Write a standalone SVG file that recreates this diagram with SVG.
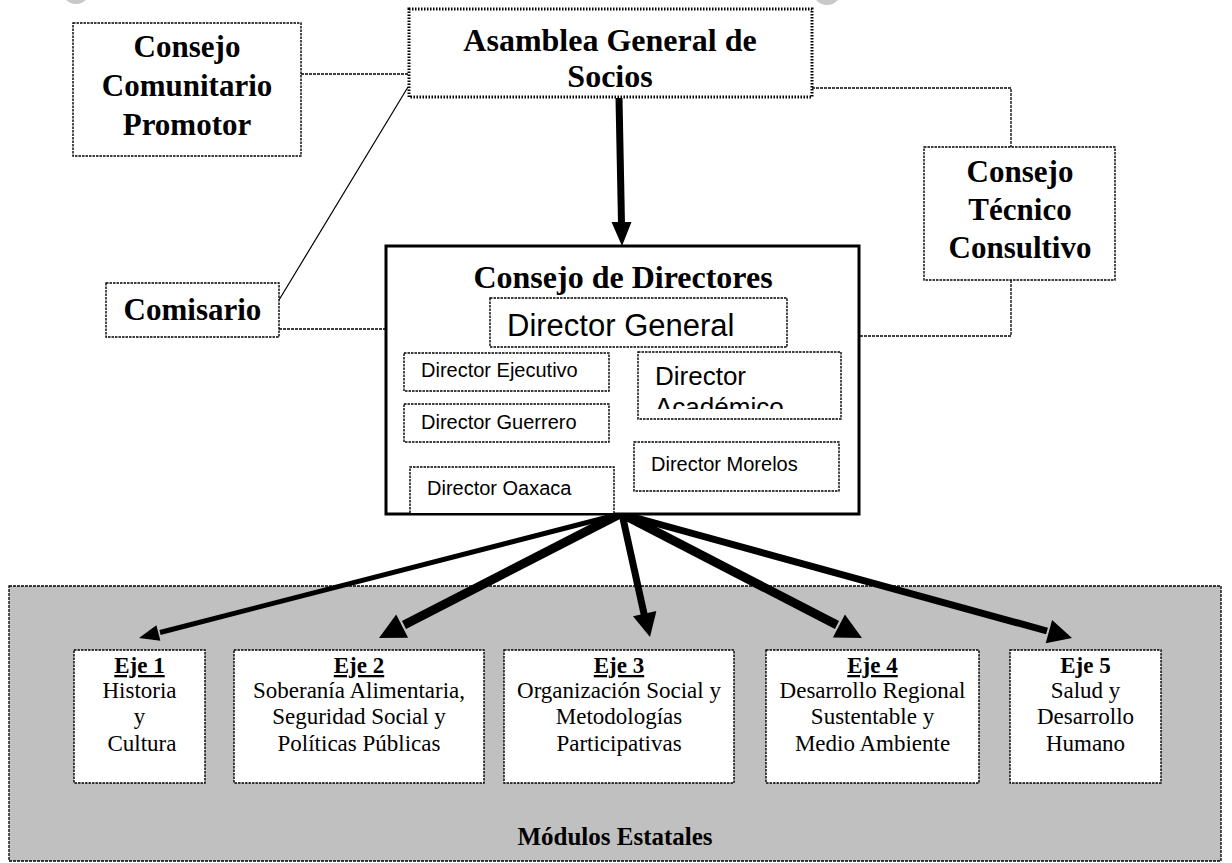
<svg xmlns="http://www.w3.org/2000/svg" width="1232" height="863" viewBox="0 0 1232 863">
<style>
.box{fill:#fff;stroke:#000;stroke-width:1.4;stroke-dasharray:2.5 1}
.dot{fill:#fff;stroke:#000;stroke-width:3;stroke-dasharray:1.5 1.5}
.hb{font-family:"Liberation Serif","Times New Roman",serif;font-weight:bold;font-size:31px;text-anchor:middle;fill:#000}
.sn{font-family:"Liberation Sans",Arial,sans-serif;fill:#000}
.eh{font-family:"Liberation Serif","Times New Roman",serif;font-weight:bold;font-size:23px;text-anchor:middle}
.et{font-family:"Liberation Serif","Times New Roman",serif;font-size:23px;text-anchor:middle}
.cn{fill:none;stroke:#000;stroke-width:1.3;stroke-dasharray:3 1}
</style>
<defs>
<clipPath id="clipDA"><rect x="638" y="352" width="204" height="57"/></clipPath>
</defs>
<rect width="1232" height="863" fill="#fff"/>
<circle cx="76" cy="-10" r="14" fill="#c8c8c8"/>
<circle cx="827" cy="-9" r="14" fill="#c8c8c8"/>

<g id="modulos">
<rect x="9" y="586" width="1212" height="275" fill="#c0c0c0" stroke="#000" stroke-width="1.3" stroke-dasharray="3 1"/>
<text class="eh" x="615" y="845" style="font-size:25px">Módulos Estatales</text>
</g>

<g id="connectors">
<polyline class="cn" points="301,74 409,74"/>
<polyline class="cn" points="812,88 1011,88 1011,147"/>
<polyline class="cn" points="1011,280 1011,336 860,336"/>
<polyline class="cn" points="279,329 386,329"/>
<line x1="408" y1="87" x2="279" y2="300" stroke="#000" stroke-width="1.2"/>
<line x1="619" y1="98" x2="621.5" y2="224" stroke="#000" stroke-width="7"/>
<polygon points="622,246 611.5,222 631.5,222" fill="#000"/>
<line x1="620" y1="514" x2="160" y2="632.5" stroke="#000" stroke-width="5"/>
<polygon points="139,638 156.4,625.3 160.4,640.8" fill="#000"/>
<line x1="620" y1="514" x2="404" y2="625" stroke="#000" stroke-width="9"/>
<polygon points="379,638 396.2,614.5 408.1,637.7" fill="#000"/>
<line x1="622" y1="514" x2="644.3" y2="615" stroke="#000" stroke-width="7"/>
<polygon points="650,637 633,616.3 656.4,610.9" fill="#000"/>
<line x1="622" y1="514" x2="837" y2="625" stroke="#000" stroke-width="9"/>
<polygon points="862,638 832.9,637.6 844.9,614.5" fill="#000"/>
<line x1="622" y1="514" x2="1047" y2="631" stroke="#000" stroke-width="7"/>
<polygon points="1072,638 1045.7,643.2 1052.1,620" fill="#000"/>
</g>

<g id="ccp">
<rect class="box" x="73" y="23" width="228" height="133"/>
<text class="hb" x="187" y="57">Consejo</text>
<text class="hb" x="187" y="96">Comunitario</text>
<text class="hb" x="187" y="135">Promotor</text>
</g>

<g id="asamblea">
<rect class="dot" x="409" y="9" width="403" height="88"/>
<text class="hb" x="610" y="51" style="font-size:32px">Asamblea General de</text>
<text class="hb" x="610" y="87" style="font-size:32px">Socios</text>
</g>

<g id="ctc">
<rect class="box" x="924" y="147" width="191" height="133"/>
<text class="hb" x="1020" y="182">Consejo</text>
<text class="hb" x="1020" y="220">Técnico</text>
<text class="hb" x="1020" y="258">Consultivo</text>
</g>

<g id="comisario">
<rect class="box" x="106" y="283" width="173" height="54"/>
<text class="hb" x="192.5" y="320">Comisario</text>
</g>

<g id="consejo-directores">
<rect x="386" y="246" width="473" height="268" fill="#fff" stroke="#000" stroke-width="3"/>
<text class="hb" x="623" y="288" style="font-size:32px">Consejo de Directores</text>
</g>

<g id="director-general">
<rect class="box" x="490" y="298" width="297" height="49"/>
<text class="sn" x="507" y="336" font-size="31">Director General</text>
</g>

<g id="director-ejecutivo">
<rect class="box" x="404" y="353" width="205" height="38"/>
<text class="sn" x="421" y="377" font-size="20">Director Ejecutivo</text>
</g>

<g id="director-guerrero">
<rect class="box" x="404" y="404" width="205" height="38"/>
<text class="sn" x="421" y="429" font-size="20">Director Guerrero</text>
</g>

<g id="director-academico">
<rect class="box" x="638" y="352" width="203" height="67"/>
<g clip-path="url(#clipDA)">
<text class="sn" x="655" y="385" font-size="26">Director</text>
<text class="sn" x="655" y="416" font-size="26">Académico</text>
</g>
</g>

<g id="director-morelos">
<rect class="box" x="634" y="442" width="205" height="49"/>
<text class="sn" x="651" y="471" font-size="20">Director Morelos</text>
</g>

<g id="director-oaxaca">
<path d="M410,513 V467 H614 V513" fill="#fff" stroke="#000" stroke-width="1.4" stroke-dasharray="2.5 1"/>
<text class="sn" x="427" y="495" font-size="20">Director Oaxaca</text>
</g>

<g id="eje1">
<rect class="box" x="74" y="650" width="131" height="133"/>
<text class="eh" x="139.5" y="673" text-decoration="underline">Eje 1</text>
<text class="et" x="139.5" y="698">Historia</text>
<text class="et" x="139.5" y="724">y</text>
<text class="et" x="142" y="751">Cultura</text>
</g>

<g id="eje2">
<rect class="box" x="234" y="650" width="250" height="133"/>
<text class="eh" x="359" y="673" text-decoration="underline">Eje 2</text>
<text class="et" x="359" y="698">Soberanía Alimentaria,</text>
<text class="et" x="359" y="724">Seguridad Social y</text>
<text class="et" x="359" y="751">Políticas Públicas</text>
</g>

<g id="eje3">
<rect class="box" x="504" y="650" width="230" height="133"/>
<text class="eh" x="619" y="673" text-decoration="underline">Eje 3</text>
<text class="et" x="619" y="698">Organización Social y</text>
<text class="et" x="619" y="724">Metodologías</text>
<text class="et" x="619" y="751">Participativas</text>
</g>

<g id="eje4">
<rect class="box" x="766" y="650" width="213" height="133"/>
<text class="eh" x="872.5" y="673" text-decoration="underline">Eje 4</text>
<text class="et" x="872.5" y="698">Desarrollo Regional</text>
<text class="et" x="872.5" y="724">Sustentable y</text>
<text class="et" x="872.5" y="751">Medio Ambiente</text>
</g>

<g id="eje5">
<rect class="box" x="1010" y="650" width="151" height="133"/>
<text class="eh" x="1085.5" y="673">Eje 5</text>
<text class="et" x="1085.5" y="698">Salud y</text>
<text class="et" x="1085.5" y="724">Desarrollo</text>
<text class="et" x="1085.5" y="751">Humano</text>
</g>
</svg>
